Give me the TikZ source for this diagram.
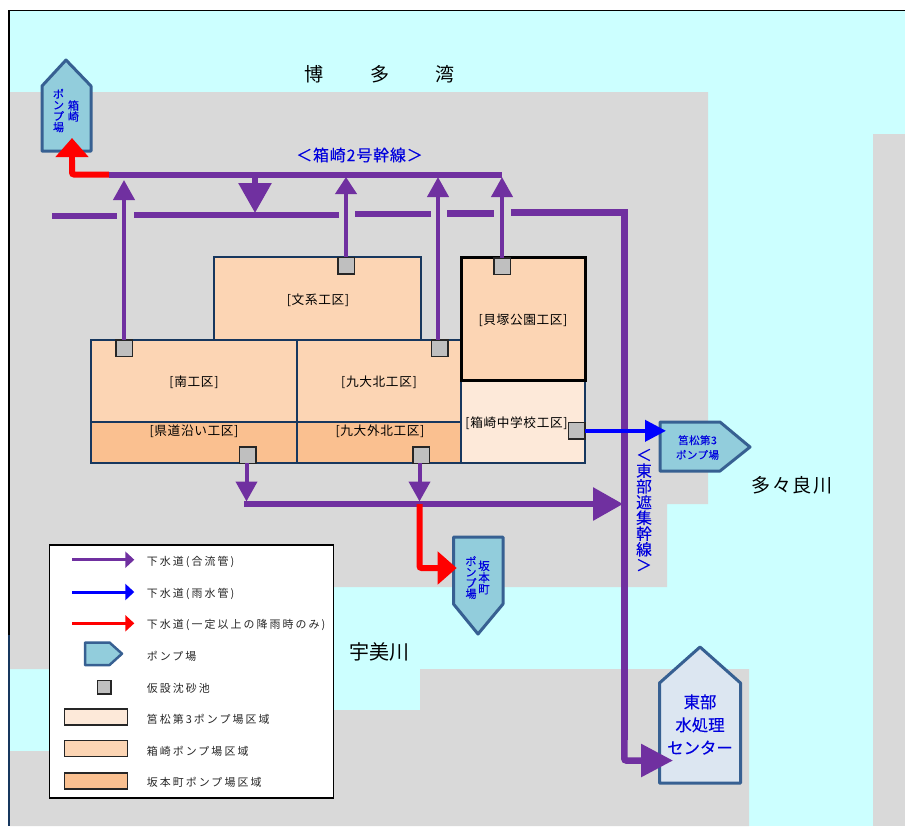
\documentclass[tikz,border=0pt]{standalone}
\usepackage{fontspec}
\setmainfont{Noto Sans CJK JP}
\usetikzlibrary{arrows.meta}
\definecolor{sea}{HTML}{CCFFFF}
\definecolor{land}{HTML}{D9D9D9}
\definecolor{pipe}{HTML}{7030A0}
\definecolor{navy}{HTML}{17375E}
\definecolor{zlight}{HTML}{FDE9D9}
\definecolor{zmid}{HTML}{FCD5B4}
\definecolor{zdark}{HTML}{FAC090}
\definecolor{pumpfill}{HTML}{92CDDC}
\definecolor{pumpline}{HTML}{376092}
\definecolor{plantfill}{HTML}{DCE6F1}
\definecolor{labelblue}{HTML}{0000DD}
\def\u{0.75pt}
\newcommand{\lsp}[1]{\addfontfeature{LetterSpace=#1}}
\newcommand{\fat}{\addfontfeature{FakeBold=0.1}}
\tikzset{
  x=0.75pt,y=-0.75pt,
  zone/.style={draw=navy,line width=2*\u,inner sep=0pt,outer sep=0pt,anchor=north west,text=black},
  ztext/.style={inner sep=0pt,text=black,font=\fontsize{9.5}{11}\selectfont\lsp{5}},
  pit/.style={draw=black!85,fill=black!25,line width=1.5*\u,minimum size=16.5*\u,inner sep=0pt,outer sep=0pt},
  pump/.style={draw=pumpline,fill=pumpfill,line width=3*\u,line join=round},
  plant/.style={draw=pumpline,fill=plantfill,line width=3*\u,line join=round},
  pumptext/.style={inner sep=0pt,align=center,text=labelblue,font=\fontsize{8.3}{8.4}\selectfont\fat},
  branch/.style={draw=pipe,line width=4*\u,-{Triangle[length=20*\u,width=21*\u]}},
  trunk/.style={draw=pipe,line width=6*\u},
  bigend/.style={-{Triangle[length=30*\u,width=32*\u]}},
  keyarrow/.style={line width=3*\u,-{Triangle[length=9*\u,width=16*\u]}},
  keytext/.style={anchor=west,inner sep=0pt,text=black!85,font=\fontsize{8.2}{9}\selectfont\lsp{19}},
  swatch/.style={draw=black!85,line width=1.5*\u,inner sep=0pt,outer sep=0pt,minimum width=63*\u,minimum height=16*\u},
  place/.style={inner sep=0pt,text=black,font=\fontsize{14.3}{16}\selectfont},
  main/.style={inner sep=0pt,text=labelblue,font=\fontsize{12}{11.8}\selectfont\lsp{5}\fat,align=center},
}
\begin{document}
\begin{tikzpicture}
\useasboundingbox (0,0) rectangle (905,826);
% water and land
\fill[sea] (10,11) rectangle (905,826);
\fill[land] (10,92) -- (708,92) -- (708,504) -- (667,504) -- (667,587) -- (333,587) -- (333,669) -- (10,669) -- cycle;
\fill[land] (10,826) -- (10,751) -- (49,751) -- (49,710) -- (420,710) -- (420,669) -- (749,669) -- (749,826) -- cycle;
\fill[land] (873,134) rectangle (905,826);
\draw[black,line width=1.5*\u] (905,10.5) -- (9,10.5) -- (9,635);
\draw[navy,line width=2*\u] (9,635) -- (9,826);
% place names
\node[place] (hakata1) at (314,74) {博};
\node[place] (hakata2) at (380,74) {多};
\node[place] (hakata3) at (445,74) {湾};
\node[place,font=\fontsize{14.3}{16}\selectfont\addfontfeature{LetterSpace=8}] (tatara) at (792,485.5) {多々良川};
\node[place,font=\fontsize{15}{16}\selectfont] (umi) at (379.5,651.5) {宇美川};
% zones
\node[zone,fill=zmid,minimum width=207*\u,minimum height=83*\u] (bunkei) at (214,257) {};
\node[zone,fill=zmid,minimum width=206*\u,minimum height=82*\u] (minami) at (91,340) {};
\node[zone,fill=zmid,minimum width=164*\u,minimum height=82*\u] (qnorth) at (297,340) {};
\node[zone,fill=zdark,minimum width=206*\u,minimum height=41*\u] (kendo) at (91,422) {};
\node[zone,fill=zdark,minimum width=164*\u,minimum height=41*\u] (qout) at (297,422) {};
\node[zone,fill=zlight,minimum width=124*\u,minimum height=83*\u] (school) at (461,380) {};
\node[zone,fill=zmid,draw=black,line width=3*\u,minimum width=124*\u,minimum height=123*\u] (kaizuka) at (461,257) {};
\node[ztext] (tbunkei) at (318,300) {[文系工区]};
\node[ztext] (tminami) at (194,382) {[南工区]};
\node[ztext] (tqnorth) at (379,382) {[九大北工区]};
\node[ztext] (tkendo) at (194,431) {[県道沿い工区]};
\node[ztext] (tqout) at (380,431) {[九大外北工区]};
\node[ztext] (tkaizuka) at (523,320) {[貝塚公園工区]};
\node[ztext] (tschool) at (516.5,423) {[箱崎中学校工区]};
% trunk line coordinates
\coordinate (tl) at (109,174.5);
\coordinate (tr) at (502,174.5);
\coordinate (rb) at (72,174.5);
\coordinate (rm) at (72,160);
\coordinate (rt) at (72,138);
\coordinate (dn0) at (255,174.5);
\coordinate (dn1) at (255,213);
\coordinate (a1) at (52,216);   \coordinate (a2) at (117,216);
\coordinate (b1) at (134,215);  \coordinate (b2) at (338.7,215);
\coordinate (c1) at (355,214);  \coordinate (c2) at (431,214);
\coordinate (d1) at (447,213.3);\coordinate (d2) at (494,213.3);
\coordinate (e1) at (511,212.7);\coordinate (e2) at (624.3,212.7);
\coordinate (e25) at (624.3,740);
\coordinate (e3) at (624.3,760.5);\coordinate (e35) at (645,760.5);\coordinate (e4) at (673,760.5);
\coordinate (tipS) at (124,180);
\coordinate (tipB) at (346,177);
\coordinate (tipQ) at (438,177);
\coordinate (tipK) at (502,177);
\coordinate (j1) at (246.5,501.5);
\coordinate (j2) at (419.5,501.5);
\coordinate (ml) at (244,504);
\coordinate (mr) at (623,504);
\coordinate (rs0) at (419.5,504);
\coordinate (rs1) at (419.5,568);
\coordinate (rs15) at (440,568);
\coordinate (rs2) at (456.7,568);
\coordinate (bl) at (666,430.8);
% pits
\node[pit] (pS) at (124,348) {};
\node[pit] (pB) at (346,265.5) {};
\node[pit] (pQ) at (439.5,348) {};
\node[pit] (pK) at (502,266) {};
\node[pit] (pT) at (247.5,455) {};
\node[pit] (pO) at (421,455) {};
\node[pit] (pJ) at (576.8,430.8) {};
% overflow to Hakozaki pump (red)
\draw[red,line width=6*\u,rounded corners=1.5pt] (tl) -- (rb) -- (rm);
% trunks
\draw[trunk] (tl) -- (tr);
\draw[pipe,line width=6*\u,-{Triangle[length=30*\u,width=32*\u]}] (dn0) -- (dn1);
\draw[trunk,line width=6.5*\u] (a1) -- (a2);
\draw[trunk,line width=6.5*\u] (b1) -- (b2);
\draw[trunk,line width=6.5*\u] (c1) -- (c2);
\draw[trunk,line width=6.5*\u] (d1) -- (d2);
\draw[trunk,line width=6.5*\u] (e1) -- (e2) -- (e25);
\draw[pipe,line width=6.5*\u,rounded corners=1.5pt] (e25) -- (e3) -- (e35);
% branches up
\draw[branch] (pS.north) -- (tipS);
\draw[branch,-{Triangle[length=17*\u,width=21*\u]}] (pB.north) -- (tipB);
\draw[branch] (pQ.north -| tipQ) -- (tipQ);
\draw[branch] (pK.north) -- (tipK);
% bottom collector
\draw[trunk,bigend] (ml) -- (mr);
\draw[branch] (pT.south -| j1) -- (j1);
\draw[branch] (pO.south -| j2) -- (j2);
\draw[red,line width=6*\u,rounded corners=1.5pt] (rs0) -- (rs1) -- (rs15);
% pumps
\draw[pump] (42,151) -- (42,86) -- (66,60) -- (91,86) -- (91,151) -- cycle;
\draw[pump] (453.5,537) -- (503,537) -- (503,604) -- (478,634) -- (453.5,604) -- cycle;
\draw[pump] (660,422) -- (720,422) -- (750,447) -- (720,471) -- (660,471) -- cycle;
\draw[plant] (659.5,783) -- (659.5,683) -- (700,647) -- (740.5,683) -- (740.5,783) -- cycle;
% arrow heads that overlap the pumps
\draw[red,line width=6*\u,-{Triangle[length=19*\u,width=32*\u]}] (rm) -- (rt);
\draw[pipe,line width=6*\u,-{Triangle[length=32*\u,width=32*\u]}] (e35) -- (e4);
\draw[red,line width=6*\u,-{Triangle[length=19*\u,width=32*\u]}] (rs15) -- (rs2);
\draw[blue,line width=4*\u,-{Triangle[length=21*\u,width=21*\u]}] (pJ.east) -- (bl);
% pump labels
\node[pumptext,font=\fontsize{8.3}{8.3}\selectfont\fat] (h1) at (73.5,111) {箱\\崎};
\node[pumptext,font=\fontsize{8.3}{8.3}\selectfont\fat] (h2) at (58.5,110.5) {ポ\\ン\\プ\\場};
\node[pumptext,font=\fontsize{8.6}{8.7}\selectfont\fat] (s1) at (484,577.5) {坂\\本\\町};
\node[pumptext,font=\fontsize{8.3}{8.1}\selectfont\fat] (s2) at (471,577.5) {ポ\\ン\\プ\\場};
\node[pumptext,font=\fontsize{7.9}{11}\selectfont\lsp{4}\fat] (fuk) at (697.5,447.5) {筥松第3\\ポンプ場};
\node[main,font=\fontsize{12.3}{17.2}\selectfont\fat] (east) at (700,724.5) {東部\\水処理\\センター};
% trunk labels
\node[main] (lab1) at (359.5,155) {＜箱崎2号幹線＞};
\node[main,font=\fontsize{11.8}{11.8}\selectfont\fat] (lab2) at (644,510) {＜\\東\\部\\遮\\集\\幹\\線\\＞};
% legend
\node[draw=black,fill=white,line width=1.5*\u,inner sep=0pt,outer sep=0pt,anchor=north west,minimum width=284*\u,minimum height=253*\u] (key) at (49.3,545) {};
\coordinate (k1a) at (72,559.7); \coordinate (k1b) at (134.3,559.7);
\coordinate (k2a) at (72,592);   \coordinate (k2b) at (134.3,592);
\coordinate (k3a) at (72,623.3); \coordinate (k3b) at (134.3,623.3);
\draw[pipe,keyarrow] (k1a) -- (k1b);
\draw[blue,keyarrow] (k2a) -- (k2b);
\draw[red,keyarrow] (k3a) -- (k3b);
\draw[pump,line width=2.5*\u] (85,642.5) -- (109.5,642.5) -- (122,653.7) -- (109.5,665) -- (85,665) -- cycle;
\node[pit,minimum size=13.5*\u] (kp) at (104,687.3) {};
\node[swatch,fill=zlight] (ks1) at (96,717) {};
\node[swatch,fill=zmid] (ks2) at (96,748.7) {};
\node[swatch,fill=zdark] (ks3) at (96,781) {};
\node[keytext] (kt1) at (146.5,562) {下水道(合流管)};
\node[keytext] (kt2) at (146.5,593.5) {下水道(雨水管)};
\node[keytext] (kt3) at (146.5,625) {下水道(一定以上の降雨時のみ)};
\node[keytext] (kt4) at (146.5,656.5) {ポンプ場};
\node[keytext] (kt5) at (146.5,688) {仮設沈砂池};
\node[keytext] (kt6) at (146.5,719.5) {筥松第3ポンプ場区域};
\node[keytext] (kt7) at (146.5,751) {箱崎ポンプ場区域};
\node[keytext] (kt8) at (146.5,782.5) {坂本町ポンプ場区域};
\end{tikzpicture}
\end{document}
